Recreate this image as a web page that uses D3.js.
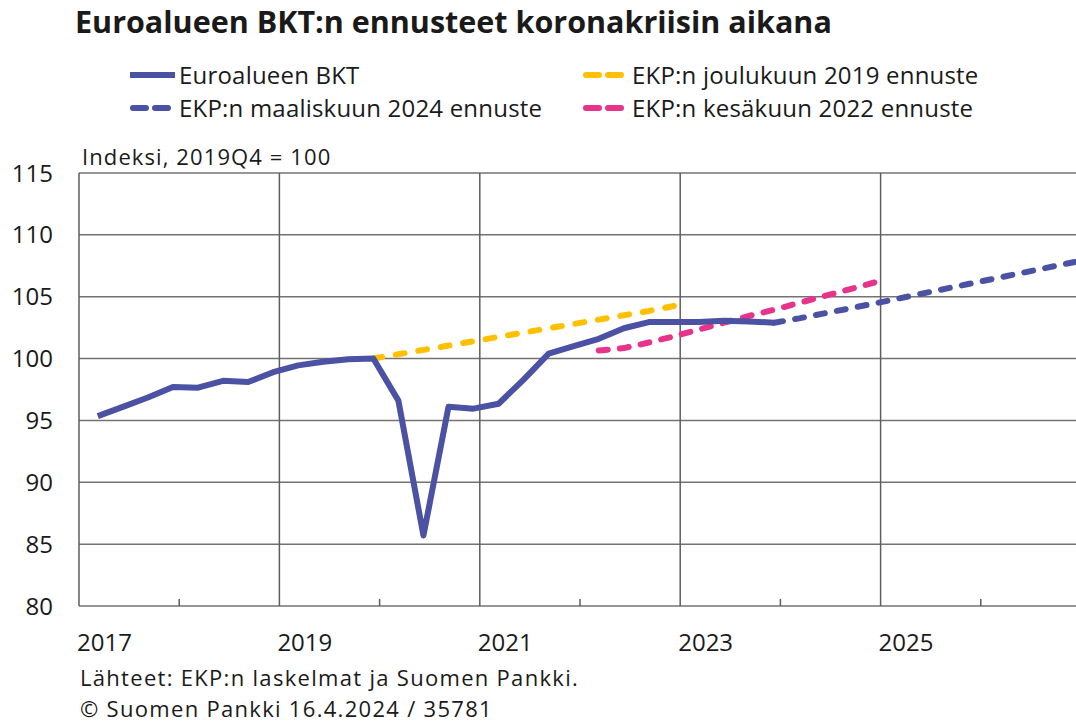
<!DOCTYPE html>
<html>
<head>
<meta charset="utf-8">
<script src="https://cdn.jsdelivr.net/npm/d3@7"></script>
<style>
  body { margin: 0; background: #fff; }
  svg text { font-family: "Open Sans", "Noto Sans", sans-serif; fill: #1a1a1a; }
</style>
</head>
<body>
<div id="chart"></div>
<script>
// quarterly data, index 2019Q4 = 100
var gdpQuarters = ["2017Q1","2017Q2","2017Q3","2017Q4","2018Q1","2018Q2","2018Q3","2018Q4",
  "2019Q1","2019Q2","2019Q3","2019Q4","2020Q1","2020Q2","2020Q3","2020Q4",
  "2021Q1","2021Q2","2021Q3","2021Q4","2022Q1","2022Q2","2022Q3","2022Q4",
  "2023Q1","2023Q2","2023Q3","2023Q4"];
var gdpValues = [95.35, 96.1, 96.85, 97.7, 97.65, 98.2, 98.1, 98.9,
  99.45, 99.75, 99.95, 100, 96.6, 85.7, 96.1, 95.95,
  96.35, 98.3, 100.4, 101.0, 101.6, 102.45, 102.95, 102.95,
  102.95, 103.05, 103.0, 102.9];

var dec2019Quarters = ["2019Q4","2020Q1","2020Q2","2020Q3","2020Q4","2021Q1","2021Q2",
  "2021Q3","2021Q4","2022Q1","2022Q2","2022Q3","2022Q4"];
var dec2019Values = [100, 100.35, 100.7, 101.05, 101.4, 101.75, 102.1,
  102.45, 102.8, 103.15, 103.5, 103.85, 104.25];

var jun2022Quarters = ["2022Q1","2022Q2","2022Q3","2022Q4","2023Q1","2023Q2",
  "2023Q3","2023Q4","2024Q1","2024Q2","2024Q3","2024Q4"];
var jun2022Values = [100.65, 100.85, 101.3, 101.8, 102.35, 102.9,
  103.45, 103.95, 104.5, 105.05, 105.6, 106.15];

var mar2024Quarters = ["2023Q4","2024Q1","2024Q2","2024Q3","2024Q4","2025Q1","2025Q2",
  "2025Q3","2025Q4","2026Q1","2026Q2","2026Q3","2026Q4"];
var mar2024Values = [102.9, 103.25, 103.65, 104.05, 104.45, 104.87, 105.29,
  105.71, 106.13, 106.55, 106.97, 107.39, 107.81];

var yTicks = [80, 85, 90, 95, 100, 105, 110, 115];
var xLabelYears = [2017, 2019, 2021, 2023, 2025];
var xMinorYears = [2018, 2020, 2022, 2024, 2026];

var W = 1076, H = 724;
var svg = d3.select("#chart").append("svg")
  .attr("width", W).attr("height", H);

var x = d3.scaleLinear().domain([2017, 2027]).range([79, 1081]);
var y = d3.scaleLinear().domain([80, 115]).range([606, 173]);

// quarter string -> position inside the year
function qPos(s) {
  var yr = +s.slice(0, 4), q = +s.slice(5);
  return yr + (q - 0.25) / 4;
}
function pairs(qs, vs) {
  return qs.map(function (d, i) { return { t: qPos(d), v: vs[i] }; });
}

// grid
svg.append("g").selectAll("line.h").data(yTicks).enter().append("line")
  .attr("x1", x(2017)).attr("x2", W)
  .attr("y1", function (d) { return y(d); })
  .attr("y2", function (d) { return y(d); })
  .attr("stroke", "#737373").attr("stroke-width", 1.5);

svg.append("g").selectAll("line.v").data(xLabelYears).enter().append("line")
  .attr("x1", function (d) { return x(d); })
  .attr("x2", function (d) { return x(d); })
  .attr("y1", y(115)).attr("y2", y(80))
  .attr("stroke", "#5e5e5e").attr("stroke-width", 1.5);

svg.append("g").selectAll("line.m").data(xMinorYears).enter().append("line")
  .attr("x1", function (d) { return x(d); })
  .attr("x2", function (d) { return x(d); })
  .attr("y1", y(80) - 7).attr("y2", y(80))
  .attr("stroke", "#5e5e5e").attr("stroke-width", 1.5);

// axis labels
svg.append("g").selectAll("text").data(yTicks).enter().append("text")
  .attr("x", 53).attr("y", function (d) { return y(d) + 8.5; })
  .attr("text-anchor", "end").style("font-size", "24px")
  .text(function (d) { return d; });

svg.append("g").selectAll("text").data(xLabelYears).enter().append("text")
  .attr("x", function (d) { return x(d) - 2; }).attr("y", 651)
  .style("font-size", "24px")
  .text(function (d) { return d; });

svg.append("text").attr("x", 82).attr("y", 165)
  .style("font-size", "22px").style("letter-spacing", "1.1px")
  .text("Indeksi, 2019Q4 = 100");

// lines
var line = d3.line()
  .x(function (d) { return x(d.t); })
  .y(function (d) { return y(d.v); });

var series = [
  { data: pairs(mar2024Quarters, mar2024Values), color: "#4b51a3", dash: true },
  { data: pairs(dec2019Quarters, dec2019Values), color: "#ffc000", dash: true },
  { data: pairs(jun2022Quarters, jun2022Values), color: "#e8338b", dash: true },
  { data: pairs(gdpQuarters, gdpValues), color: "#4b51a3", dash: false }
];

series.forEach(function (s) {
  var p = svg.append("path").datum(s.data)
    .attr("d", line)
    .attr("fill", "none")
    .attr("stroke", s.color)
    .attr("stroke-width", 6)
    .attr("stroke-linejoin", "round")
    .attr("stroke-linecap", s.dash ? "round" : "butt");
  if (s.dash) {
    // stretch the gap a little so both ends finish with a dash
    var len = p.node().getTotalLength();
    var n = Math.max(1, Math.round((len - 9) / 22));
    var gap = (len - 9) / n - 9;
    p.attr("stroke-dasharray", "9," + gap);
  }
});

// title
svg.append("text").attr("x", 75).attr("y", 33)
  .style("font-size", "30.5px").style("font-weight", "bold")
  .text("Euroalueen BKT:n ennusteet koronakriisin aikana");

// legend
var legendItems = [
  { label: "Euroalueen BKT", color: "#4b51a3", dash: false, lx: 130, ly: 75 },
  { label: "EKP:n maaliskuun 2024 ennuste", color: "#4b51a3", dash: true, lx: 130, ly: 108 },
  { label: "EKP:n joulukuun 2019 ennuste", color: "#ffc000", dash: true, lx: 583, ly: 75 },
  { label: "EKP:n kesäkuun 2022 ennuste", color: "#e8338b", dash: true, lx: 583, ly: 108 }
];
var lg = svg.append("g").selectAll("g").data(legendItems).enter().append("g");
lg.append("line")
  .attr("x1", function (d) { return d.dash ? d.lx + 3 : d.lx; })
  .attr("x2", function (d) { return d.lx + 45; })
  .attr("y1", function (d) { return d.ly; })
  .attr("y2", function (d) { return d.ly; })
  .attr("stroke", function (d) { return d.color; })
  .attr("stroke-width", 6)
  .attr("stroke-linecap", function (d) { return d.dash ? "round" : "butt"; })
  .attr("stroke-dasharray", function (d) { return d.dash ? "13,9" : null; });
lg.append("text")
  .attr("x", function (d) { return d.lx + 49; })
  .attr("y", function (d) { return d.ly + 8.5; })
  .style("font-size", "24px").style("letter-spacing", "0.2px")
  .text(function (d) { return d.label; });

// sources
svg.append("text").attr("x", 80).attr("y", 686)
  .style("font-size", "22px").style("letter-spacing", "1.3px")
  .text("Lähteet: EKP:n laskelmat ja Suomen Pankki.");
svg.append("text").attr("x", 80).attr("y", 717)
  .style("font-size", "22px").style("letter-spacing", "1.3px")
  .text("© Suomen Pankki 16.4.2024 / 35781");
</script>
</body>
</html>
